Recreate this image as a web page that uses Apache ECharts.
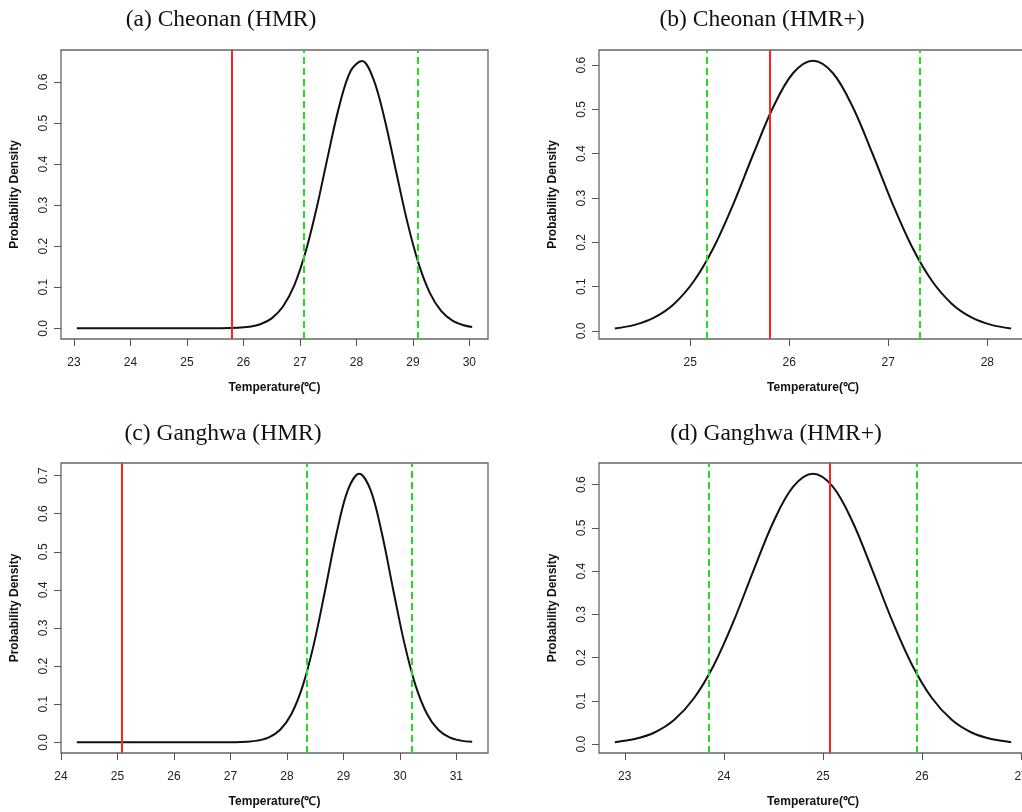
<!DOCTYPE html>
<html>
<head>
<meta charset="utf-8">
<script src="https://cdn.jsdelivr.net/npm/echarts@6/dist/echarts.min.js"></script>
<style>
html,body{margin:0;padding:0;background:#fff;}
#chart{width:1022px;height:812px;}
</style>
</head>
<body>
<div id="chart"></div>
<script>
// ---------- data ----------
const titles = ['(a) Cheonan (HMR)', '(b) Cheonan (HMR+)', '(c) Ganghwa (HMR)', '(d) Ganghwa (HMR+)'];

// (a) Cheonan (HMR)
const xA = [23.05, 24.0, 25.0, 25.6, 25.9, 26.1, 26.3, 26.5, 26.7, 26.9, 27.1, 27.3, 27.5, 27.7, 27.9, 28.1, 28.3, 28.5, 28.7, 28.9, 29.1, 29.3, 29.5, 29.7, 29.9, 30.05];
const yA = [0, 0, 0, 0.0002, 0.0012, 0.0037, 0.0099, 0.0243, 0.0532, 0.1048, 0.1857, 0.2954, 0.4226, 0.5431, 0.6273, 0.6512, 0.6075, 0.5093, 0.3838, 0.2599, 0.1582, 0.0865, 0.0425, 0.0188, 0.0075, 0.0035];
const redA = 25.8;
const greenA = [27.06, 29.08];

// (b) Cheonan (HMR+)
const xB = [24.24, 24.44, 24.64, 24.84, 25.04, 25.24, 25.44, 25.64, 25.84, 26.04, 26.24, 26.44, 26.64, 26.84, 27.04, 27.24, 27.44, 27.64, 27.84, 28.04, 28.24];
const yB = [0.0057, 0.0138, 0.0306, 0.0617, 0.1133, 0.1895, 0.2887, 0.4005, 0.5059, 0.5821, 0.61, 0.5821, 0.5059, 0.4005, 0.2887, 0.1895, 0.1133, 0.0617, 0.0306, 0.0138, 0.0057];
const redB = 25.8;
const greenB = [25.17, 27.32];

// (c) Ganghwa (HMR)
const xC = [24.28, 25.28, 26.28, 27.08, 27.28, 27.48, 27.68, 27.88, 28.08, 28.28, 28.48, 28.68, 28.88, 29.08, 29.28, 29.48, 29.68, 29.88, 30.08, 30.28, 30.48, 30.68, 30.88, 31.08, 31.28];
const yC = [0, 0, 0, 0.0004, 0.0014, 0.0045, 0.0130, 0.0331, 0.0745, 0.1481, 0.2597, 0.4019, 0.5492, 0.6623, 0.705, 0.6623, 0.5492, 0.4019, 0.2597, 0.1481, 0.0745, 0.0331, 0.0130, 0.0045, 0.0014];
const redC = 25.07;
const greenC = [28.35, 30.21];

// (d) Ganghwa (HMR+)
const xD = [22.9, 23.1, 23.3, 23.5, 23.7, 23.9, 24.1, 24.3, 24.5, 24.7, 24.9, 25.1, 25.3, 25.5, 25.7, 25.9, 26.1, 26.3, 26.5, 26.7, 26.9];
const yD = [0.0046, 0.0117, 0.0269, 0.0563, 0.1066, 0.1830, 0.2848, 0.4016, 0.5135, 0.5951, 0.625, 0.5951, 0.5135, 0.4016, 0.2848, 0.1830, 0.1066, 0.0563, 0.0269, 0.0117, 0.0046];
const redD = 25.07;
const greenD = [23.85, 25.95];

// tick labels
const xTicksA = [23, 24, 25, 26, 27, 28, 29, 30];
const xTicksB = [25, 26, 27, 28];
const xTicksC = [24, 25, 26, 27, 28, 29, 30, 31];
const xTicksD = [23, 24, 25, 26, 27];
const yTicksA = [0, 0.1, 0.2, 0.3, 0.4, 0.5, 0.6];
const yTicksB = [0, 0.1, 0.2, 0.3, 0.4, 0.5, 0.6];
const yTicksC = [0, 0.1, 0.2, 0.3, 0.4, 0.5, 0.6, 0.7];
const yTicksD = [0, 0.1, 0.2, 0.3, 0.4, 0.5, 0.6];

// ---------- layout ----------
const panels = [
  {x: xA, y: yA, red: redA, green: greenA, xt: xTicksA, yt: yTicksA, xr: [22.77, 30.33], yr: [-0.026, 0.678],
   grid: {left: 61, top: 50, width: 427, height: 289}, title: {cx: 216, top: 3}},
  {x: xB, y: yB, red: redB, green: greenB, xt: xTicksB, yt: yTicksB, xr: [24.08, 28.40], yr: [-0.018, 0.634],
   grid: {left: 599, top: 50, width: 428, height: 289}, title: {cx: 757, top: 3}},
  {x: xC, y: yC, red: redC, green: greenC, xt: xTicksC, yt: yTicksC, xr: [24.0, 31.56], yr: [-0.028, 0.733],
   grid: {left: 61, top: 463, width: 427, height: 290}, title: {cx: 218, top: 417}},
  {x: xD, y: yD, red: redD, green: greenD, xt: xTicksD, yt: yTicksD, xr: [22.74, 27.06], yr: [-0.0205, 0.6498],
   grid: {left: 599, top: 463, width: 428, height: 290}, title: {cx: 771, top: 417}}
];

const sans = 'Liberation Sans, Arial, sans-serif';
const option = {
  animation: false,
  backgroundColor: '#ffffff',
  title: [], grid: [], xAxis: [], yAxis: [], series: []
};

panels.forEach((p, i) => {
  option.title.push({
    text: titles[i], left: p.title.cx, top: p.title.top, textAlign: 'center',
    textStyle: {fontFamily: 'Liberation Serif, Times New Roman, serif', fontSize: 23.5, fontWeight: 'normal', color: '#111'}
  });
  option.grid.push(Object.assign({show: true, borderColor: '#666', borderWidth: 1.3, backgroundColor: 'transparent',
    containLabel: false, outerBoundsMode: 'none'}, p.grid));
  option.xAxis.push({
    type: 'value', gridIndex: i, min: p.xr[0], max: p.xr[1],
    name: 'Temperature(℃)', nameLocation: 'middle', nameGap: 43,
    nameTextStyle: {fontFamily: sans, fontSize: 12, fontWeight: 'bold', color: '#111'},
    axisLine: {show: false, onZero: false},
    splitLine: {show: false},
    axisTick: {show: true, length: 7, inside: false, customValues: p.xt, lineStyle: {color: '#555', width: 1}},
    axisLabel: {show: true, customValues: p.xt, margin: 18, fontFamily: sans, fontSize: 12, color: '#222',
      formatter: v => String(Math.round(v))}
  });
  option.yAxis.push({
    type: 'value', gridIndex: i, min: p.yr[0], max: p.yr[1],
    name: 'Probability Density', nameLocation: 'middle', nameGap: 40,
    nameTextStyle: {fontFamily: sans, fontSize: 12, fontWeight: 'bold', color: '#111'},
    axisLine: {show: false, onZero: false},
    splitLine: {show: false},
    axisTick: {show: true, length: 7, inside: false, customValues: p.yt, lineStyle: {color: '#555', width: 1}},
    axisLabel: {show: true, customValues: p.yt, rotate: 90, margin: 11, fontFamily: sans, fontSize: 12, color: '#222',
      formatter: v => v.toFixed(1)}
  });
  option.series.push({
    type: 'line', xAxisIndex: i, yAxisIndex: i,
    data: p.x.map((xv, k) => [xv, p.y[k]]),
    smooth: 0.35, showSymbol: false, silent: true,
    lineStyle: {color: '#111', width: 2},
    z: 3
  });
  option.series.push({
    type: 'line', xAxisIndex: i, yAxisIndex: i, data: [], silent: true,
    markLine: {
      silent: true, symbol: ['none', 'none'], label: {show: false},
      data: p.green.map(g => ({xAxis: g, lineStyle: {color: '#22dd22', width: 2, type: [7, 4]}}))
        .concat([{xAxis: p.red, lineStyle: {color: '#ff2222', width: 2, type: 'solid'}}])
    },
    z: 2
  });
});

const chart = echarts.init(document.getElementById('chart'), null, {renderer: 'canvas'});
chart.setOption(option);
</script>
</body>
</html>
